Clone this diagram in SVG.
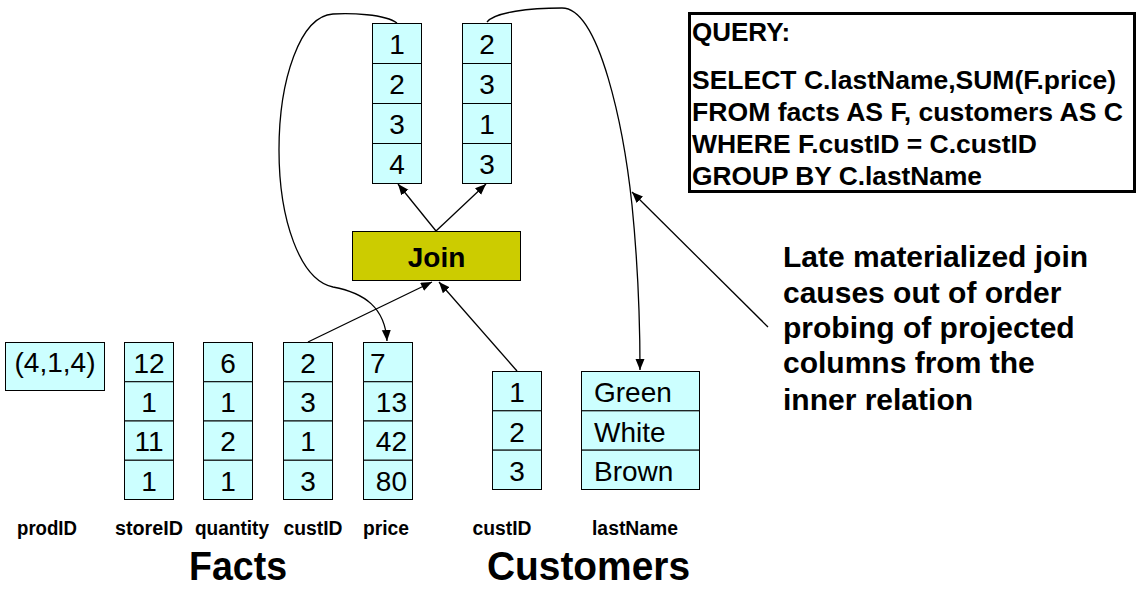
<svg xmlns="http://www.w3.org/2000/svg" width="1140" height="589" viewBox="0 0 1140 589">
<style>
.cell{fill:#CCFFFF;stroke:#000;stroke-width:1}
.num{font-family:"Liberation Sans",Arial,sans-serif;font-size:28px;fill:#000}
.mid{text-anchor:middle}
.lbl{font-family:"Liberation Sans",Arial,sans-serif;font-size:20px;font-weight:bold;text-anchor:middle;fill:#000}
.big{font-family:"Liberation Sans",Arial,sans-serif;font-size:40px;font-weight:bold;text-anchor:middle;fill:#000}
.sql{font-family:"Liberation Sans",Arial,sans-serif;font-size:26px;font-weight:bold;fill:#000}
.note{font-family:"Liberation Sans",Arial,sans-serif;font-size:30px;font-weight:bold;fill:#000}
.con{fill:none;stroke:#000;stroke-width:1.3}
</style>
<defs>
<marker id="ah" markerWidth="12" markerHeight="10" refX="11" refY="4.5" orient="auto" markerUnits="userSpaceOnUse">
<path d="M0,0 L11,4.5 L0,9 z" fill="#000"/>
</marker>
</defs>
<rect width="1140" height="589" fill="#fff"/>

<g id="top-col-1">
<rect class="cell" x="372.5" y="23.5" width="49" height="40"/>
<rect class="cell" x="372.5" y="63.5" width="49" height="40"/>
<rect class="cell" x="372.5" y="103.5" width="49" height="40"/>
<rect class="cell" x="372.5" y="143.5" width="49" height="40"/>
<text class="num mid" x="397" y="54">1</text>
<text class="num mid" x="397" y="94">2</text>
<text class="num mid" x="397" y="134">3</text>
<text class="num mid" x="397" y="174">4</text>
</g>
<g id="top-col-2">
<rect class="cell" x="462.5" y="23.5" width="49" height="40"/>
<rect class="cell" x="462.5" y="63.5" width="49" height="40"/>
<rect class="cell" x="462.5" y="103.5" width="49" height="40"/>
<rect class="cell" x="462.5" y="143.5" width="49" height="40"/>
<text class="num mid" x="487" y="54">2</text>
<text class="num mid" x="487" y="94">3</text>
<text class="num mid" x="487" y="134">1</text>
<text class="num mid" x="487" y="174">3</text>
</g>

<g id="join">
<rect x="352.5" y="231.5" width="168" height="49" fill="#CCCC00" stroke="#000" stroke-width="1"/>
<text x="436.5" y="267" style="font-family:'Liberation Sans',Arial,sans-serif;font-size:28px;font-weight:bold" text-anchor="middle">Join</text>
</g>

<g id="query">
<rect x="689.5" y="13.5" width="445" height="178" fill="#fff" stroke="#000" stroke-width="3"/>
<text class="sql" x="692" y="41">QUERY:</text>
<text class="sql" x="692" y="89" textLength="424" lengthAdjust="spacingAndGlyphs">SELECT C.lastName,SUM(F.price)</text>
<text class="sql" x="692" y="121" textLength="431" lengthAdjust="spacingAndGlyphs">FROM facts AS F, customers AS C</text>
<text class="sql" x="692" y="153" textLength="345" lengthAdjust="spacingAndGlyphs">WHERE F.custID = C.custID</text>
<text class="sql" x="692" y="185" textLength="290" lengthAdjust="spacingAndGlyphs">GROUP BY C.lastName</text>
</g>

<g id="note">
<text class="note" x="783" y="267">Late materialized join</text>
<text class="note" x="783" y="303">causes out of order</text>
<text class="note" x="783" y="338">probing of projected</text>
<text class="note" x="783" y="373">columns from the</text>
<text class="note" x="783" y="410">inner relation</text>
</g>

<g id="prodID">
<rect class="cell" x="5.5" y="342.5" width="99" height="48"/>
<text class="num mid" x="55" y="372">(4,1,4)</text>
</g>
<g id="storeID">
<rect class="cell" x="124.5" y="342.5" width="49" height="39.25"/>
<rect class="cell" x="124.5" y="381.75" width="49" height="39.25"/>
<rect class="cell" x="124.5" y="421" width="49" height="39.25"/>
<rect class="cell" x="124.5" y="460.25" width="49" height="39.25"/>
<text class="num mid" x="149" y="372.5">12</text>
<text class="num mid" x="149" y="411.5">1</text>
<text class="num mid" x="149" y="451">11</text>
<text class="num mid" x="149" y="490.5">1</text>
</g>
<g id="quantity">
<rect class="cell" x="203.5" y="342.5" width="49" height="39.25"/>
<rect class="cell" x="203.5" y="381.75" width="49" height="39.25"/>
<rect class="cell" x="203.5" y="421" width="49" height="39.25"/>
<rect class="cell" x="203.5" y="460.25" width="49" height="39.25"/>
<text class="num mid" x="228" y="372.5">6</text>
<text class="num mid" x="228" y="411.5">1</text>
<text class="num mid" x="228" y="451">2</text>
<text class="num mid" x="228" y="490.5">1</text>
</g>
<g id="facts-custID">
<rect class="cell" x="283.5" y="342.5" width="49" height="39.25"/>
<rect class="cell" x="283.5" y="381.75" width="49" height="39.25"/>
<rect class="cell" x="283.5" y="421" width="49" height="39.25"/>
<rect class="cell" x="283.5" y="460.25" width="49" height="39.25"/>
<text class="num mid" x="308" y="372.5">2</text>
<text class="num mid" x="308" y="411.5">3</text>
<text class="num mid" x="308" y="451">1</text>
<text class="num mid" x="308" y="490.5">3</text>
</g>
<g id="price">
<rect class="cell" x="363.5" y="342.5" width="49" height="39.25"/>
<rect class="cell" x="363.5" y="381.75" width="49" height="39.25"/>
<rect class="cell" x="363.5" y="421" width="49" height="39.25"/>
<rect class="cell" x="363.5" y="460.25" width="49" height="39.25"/>
<text class="num" x="370" y="372.5">7</text>
<text class="num" x="407" y="411.5" text-anchor="end">13</text>
<text class="num" x="407" y="451" text-anchor="end">42</text>
<text class="num" x="407" y="490.5" text-anchor="end">80</text>
</g>
<g id="cust-custID">
<rect class="cell" x="492.5" y="371.5" width="49" height="39.33"/>
<rect class="cell" x="492.5" y="410.83" width="49" height="39.33"/>
<rect class="cell" x="492.5" y="450.17" width="49" height="39.33"/>
<text class="num mid" x="517" y="402">1</text>
<text class="num mid" x="517" y="441.5">2</text>
<text class="num mid" x="517" y="481">3</text>
</g>
<g id="lastName">
<rect class="cell" x="581.5" y="371.5" width="118" height="39.33"/>
<rect class="cell" x="581.5" y="410.83" width="118" height="39.33"/>
<rect class="cell" x="581.5" y="450.17" width="118" height="39.33"/>
<text class="num" x="594" y="402">Green</text>
<text class="num" x="594" y="441.5">White</text>
<text class="num" x="594" y="481">Brown</text>
</g>

<g id="labels">
<text class="lbl" x="47" y="535" textLength="60" lengthAdjust="spacingAndGlyphs">prodID</text>
<text class="lbl" x="149" y="535" textLength="68" lengthAdjust="spacingAndGlyphs">storeID</text>
<text class="lbl" x="232" y="535" textLength="74" lengthAdjust="spacingAndGlyphs">quantity</text>
<text class="lbl" x="313" y="535" textLength="59" lengthAdjust="spacingAndGlyphs">custID</text>
<text class="lbl" x="386" y="535" textLength="46" lengthAdjust="spacingAndGlyphs">price</text>
<text class="lbl" x="502" y="535" textLength="59" lengthAdjust="spacingAndGlyphs">custID</text>
<text class="lbl" x="635" y="535" textLength="86" lengthAdjust="spacingAndGlyphs">lastName</text>
<text class="big" x="238" y="580" textLength="98" lengthAdjust="spacingAndGlyphs">Facts</text>
<text class="big" x="588.5" y="580" textLength="203" lengthAdjust="spacingAndGlyphs">Customers</text>
</g>

<g id="connectors">
<line class="con" x1="436" y1="231" x2="398" y2="184" marker-end="url(#ah)"/>
<line class="con" x1="436" y1="231" x2="486" y2="184" marker-end="url(#ah)"/>
<line class="con" x1="308" y1="342" x2="432" y2="282" marker-end="url(#ah)"/>
<line class="con" x1="517" y1="371" x2="439" y2="282" marker-end="url(#ah)"/>
<path class="con" d="M397,23 C385,14 350,13 333,14 C300,16 279,80 279,150 C279,220 300,280 333,287 C365,293 385,308 387,341" marker-end="url(#ah)"/>
<path class="con" d="M487,22 C495,12 530,8 562,8 C600,8 624,130 632,205 C638,265 640,320 640,370" marker-end="url(#ah)"/>
<line class="con" x1="768" y1="327" x2="632" y2="192" marker-end="url(#ah)"/>
</g>
</svg>
